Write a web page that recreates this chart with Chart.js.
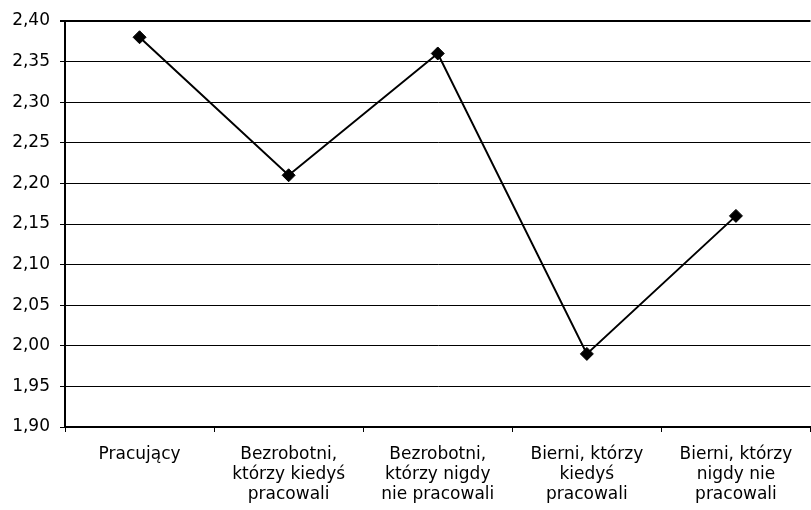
<!DOCTYPE html>
<html>
<head>
<meta charset="utf-8">
<script src="https://cdn.jsdelivr.net/npm/chart.js@4"></script>
<style>
  html, body { margin: 0; padding: 0; background: #fff; overflow: hidden; }
  #wrap { width: 811px; height: 510px; overflow: hidden; }
</style>
</head>
<body>
<div id="wrap"><canvas id="myChart" width="818" height="510"></canvas></div>
<script>
const categories = [
  "Pracujący",
  ["Bezrobotni,", "którzy kiedyś", "pracowali"],
  ["Bezrobotni,", "którzy nigdy", "nie pracowali"],
  ["Bierni, którzy", "kiedyś", "pracowali"],
  ["Bierni, którzy", "nigdy nie", "pracowali"]
];
const values = [2.38, 2.21, 2.36, 1.99, 2.16];
const yMin = 1.9;
const yMax = 2.4;
const yStep = 0.05;

const font = { family: "DejaVu Sans", size: 17 };

const ctx = document.getElementById("myChart");
new Chart(ctx, {
  type: "line",
  data: {
    labels: categories,
    datasets: [{
      data: values,
      borderColor: "#000",
      borderWidth: 2,
      pointStyle: "rectRot",
      pointRadius: 6.5,
      pointBackgroundColor: "#000",
      pointBorderColor: "#000",
      pointBorderWidth: 1,
      tension: 0
    }]
  },
  options: {
    responsive: false,
    animation: false,
    layout: { padding: { top: 21, right: 1, left: 0, bottom: 0 } },
    plugins: { legend: { display: false }, tooltip: { enabled: false } },
    scales: {
      x: {
        offset: true,
        grid: { drawOnChartArea: false, drawTicks: true, tickLength: 5, offset: true, color: "#000" },
        border: { display: true, color: "#000", width: 2 },
        ticks: { color: "#000", font: { ...font, lineHeight: "20px" }, padding: 13, maxRotation: 0, autoSkip: false },
        afterFit: (s) => { s.height = 83; }
      },
      y: {
        min: yMin,
        max: yMax,
        grid: {
          color: "#000",
          lineWidth: (c) => (c.tick && Math.abs(c.tick.value - yMax) < 1e-6 ? 2 : 1),
          tickLength: 5
        },
        border: { display: true, color: "#000", width: 2 },
        ticks: {
          stepSize: yStep,
          color: "#000",
          font: font,
          padding: 10,
          callback: (v) => Number(v).toFixed(2).replace(".", ",")
        },
        afterFit: (s) => { s.width = 65; }
      }
    }
  }
});
</script>
</body>
</html>
